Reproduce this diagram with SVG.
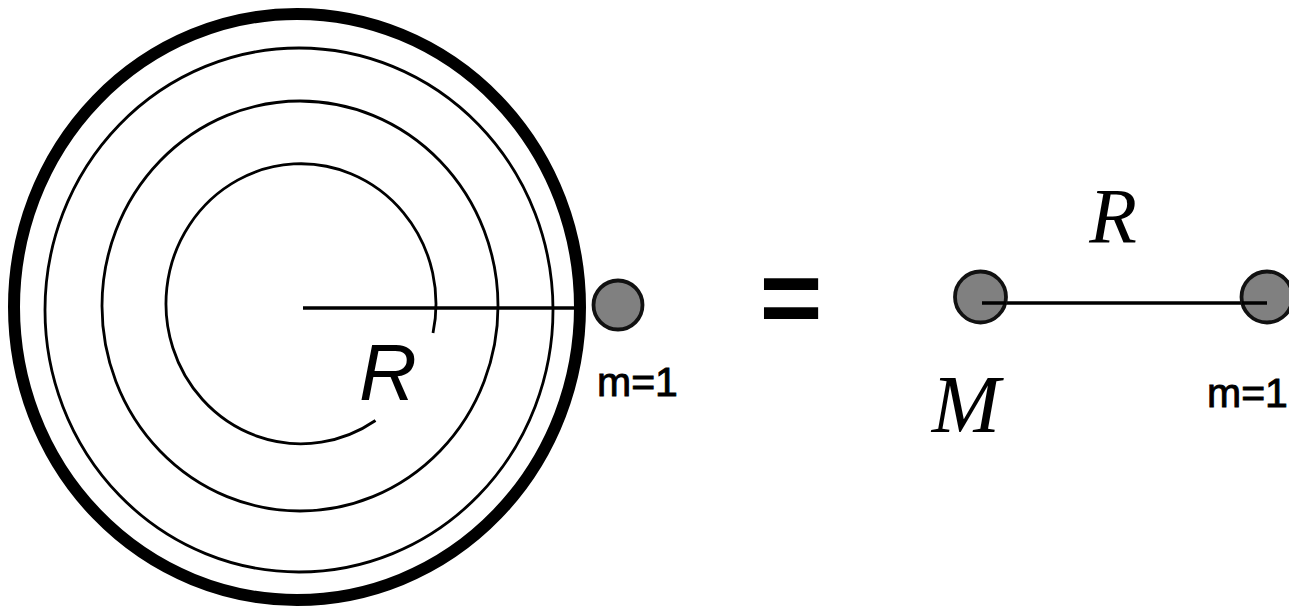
<svg xmlns="http://www.w3.org/2000/svg" width="1289" height="607" viewBox="0 0 1289 607">
<style>
.ring{fill:none;stroke:#000;stroke-width:2.8}
.thick{fill:none;stroke:#000;stroke-width:12}
.rod{stroke:#000;stroke-width:3.5;fill:none}
.ball{fill:#808080;stroke:#111;stroke-width:3.8}
.mass{font-family:"Liberation Sans",Arial,sans-serif;font-size:41px;fill:#000;stroke:#000;stroke-width:0.9}
.serif{font-family:"Liberation Serif","Times New Roman",serif;font-style:italic;fill:#000}
.sans{font-family:"Liberation Sans",Arial,sans-serif;font-style:italic;fill:#000}
</style>
<rect width="1289" height="607" fill="#fff"/>
<g id="shell">
  <ellipse class="thick" cx="297" cy="307" rx="283" ry="293"/>
  <ellipse class="ring" cx="299" cy="310" rx="254" ry="262"/>
  <ellipse class="ring" cx="300" cy="306" rx="198" ry="205"/>
  <path class="ring" d="M 433 333 A 135 140 0 1 0 375.5 420.5"/>
  <text class="sans" x="388" y="400" font-size="80" text-anchor="middle">R</text>
</g>
<g id="connectors">
  <line class="rod" x1="303" y1="308" x2="585" y2="308"/>
  <line class="rod" x1="982" y1="303" x2="1267" y2="303"/>
</g>
<g id="ball-left">
  <circle class="ball" cx="618" cy="305" r="24.5"/>
  <text class="mass" x="597" y="396">m=1</text>
</g>
<g id="equals">
  <text x="791" y="334" font-family="'Liberation Sans',Arial,sans-serif" font-weight="bold" font-size="108" text-anchor="middle">=</text>
</g>
<g id="mass-M">
  <circle class="ball" cx="980.5" cy="297" r="25.5"/>
  <line class="rod" x1="982" y1="303" x2="1006" y2="303"/>
  <text class="serif" x="966" y="432" font-size="82" text-anchor="middle">M</text>
</g>
<g id="label-R">
  <text class="serif" x="1113" y="242" font-size="78" text-anchor="middle">R</text>
</g>
<g id="mass-m">
  <circle class="ball" cx="1267" cy="297" r="25.5"/>
  <line class="rod" x1="1242" y1="303" x2="1267" y2="303"/>
  <text class="mass" x="1207" y="407">m=1</text>
</g>
</svg>
